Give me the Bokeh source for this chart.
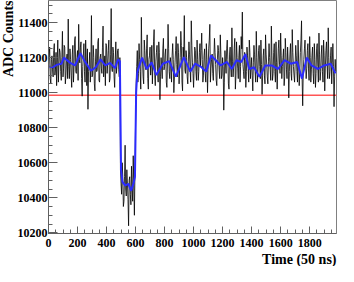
from bokeh.plotting import figure
from bokeh.models import Span, Title, SingleIntervalTicker, Range1d
from bokeh.embed import file_html
from bokeh.resources import INLINE

# ---- data ----
SAMPLE_STEP = 4  # time samples (50 ns units) between plotted raw points
adc_raw = [
    # 0 .. 492
    11120, 11210, 11260, 11080, 11050, 11190, 11210, 11130, 11090, 11240,
    11280, 11100, 11130, 11230, 11040, 11170, 11300, 11060, 11160, 11250,
    11230, 11120, 11070, 11200, 11350, 11090, 11140, 11270, 11260, 11050,
    11100, 11190, 11220, 11080, 11420, 11150, 11080, 11250, 11190, 11100,
    11030, 11220, 11270, 11060, 11150, 11300, 11320, 11120, 11110, 11200,
    11240, 11070, 11390, 11190, 11170, 11260, 11290, 11080, 10980, 11150,
    11210, 11280, 11120, 11060, 11300, 11180, 11040, 11250, 10905, 11120,
    11160, 11230, 11060, 11140, 11440, 11090, 11100, 11270, 11200, 11050,
    11010, 11180, 11250, 11120, 11130, 11290, 11310, 11070, 11060, 11200,
    11220, 11140, 11110, 11260, 11380, 11090, 11150, 11210, 11040, 11280,
    11270, 11110, 11170, 11240, 11300, 11060, 11080, 11220, 11480, 11140,
    11120, 11260, 11230, 11090, 11030, 11180, 11290, 11110, 11150, 11240,
    11250, 11130, 11090, 11200,
    # 496 .. 600 (pulse)
    10560, 10480, 10420, 10600, 10520, 10350, 10380, 10520, 10700, 10450,
    10410, 10560, 10480, 10390, 10240, 10500, 10520, 10420, 10360, 10580,
    10460, 10380, 10640, 10470, 10300, 10560, 10820,
    # 604 .. 1980
    11050, 11150, 11240, 11060, 11110, 11280, 11190, 11120, 11020, 11430,
    11200, 11180, 11090, 11050, 11300, 11240, 11150, 11130, 11250, 11330,
    11080, 11020, 11190, 11210, 11260, 11100, 11160, 11270, 11050, 11160,
    11290, 11360, 11100, 11040, 11180, 11230, 11270, 11120, 11060, 11290,
    11230, 10960, 11090, 11200, 11140, 11080, 11250, 11310, 11130, 11150,
    11220, 11250, 11060, 11030, 11170, 11390, 11250, 11120, 11080, 11200,
    11150, 11060, 11210, 11280, 11190, 11000, 11090, 11170, 11240, 11320,
    11160, 11090, 11280, 11230, 11050, 11140, 11200, 11350, 11270, 11060,
    11010, 11260, 11200, 11440, 11130, 11110, 11240, 11200, 11090, 11050,
    11180, 11290, 11220, 11130, 11060, 11410, 11270, 11170, 11110, 11030,
    11150, 11260, 11240, 11120, 11070, 11300, 11190, 11070, 11120, 11230,
    11280, 11150, 11240, 11340, 11190, 11060, 11100, 11210, 11250, 11110,
    11060, 11280, 11190, 11000, 11130, 11250, 11300, 11390, 11060, 11140,
    11190, 11220, 11110, 11070, 11200, 11310, 11230, 11160, 11070, 11040,
    11190, 11270, 11240, 11130, 11080, 11330, 11220, 11080, 11100, 11200,
    11150, 10900, 11060, 11240, 11170, 11110, 11250, 11300, 11190, 11050,
    11020, 11220, 11260, 11150, 11090, 11370, 11180, 11090, 11140, 11250,
    11310, 11020, 11100, 11290, 11200, 11140, 11080, 11210, 11270, 11060,
    11150, 11320, 11250, 11460, 11160, 11120, 11080, 11230, 11190, 11030,
    11120, 11260, 11210, 11140, 11060, 11300, 11230, 11080, 11140, 11200,
    11100, 11010, 11170, 11270, 11220, 11120, 11060, 11350, 11200, 11060,
    11130, 11240, 11270, 11150, 11080, 11300, 11160, 10990, 11100, 11210,
    11250, 11100, 11050, 11330, 11220, 11160, 11090, 11050, 11180, 11280,
    11200, 11130, 11070, 11380, 11210, 11070, 11110, 11230, 11280, 11120,
    11060, 11290, 11170, 11020, 11140, 11250, 11300, 11160, 11110, 11340,
    11210, 11080, 11150, 11200, 11250, 11040, 11090, 11310, 11230, 11130,
    11080, 11260, 11180, 10970, 11120, 11220, 11280, 11110, 11070, 11360,
    11230, 11150, 11100, 11060, 11160, 11270, 11210, 11120, 11060, 11300,
    11180, 11040, 11120, 11230, 11300, 11410, 11080, 10925, 11130, 11190,
    11250, 11300, 11160, 11080, 11140, 11240, 11280, 11140, 11070, 11320,
    11200, 11060, 11130, 11210, 11260, 11110, 11050, 11280, 11190, 11030,
    11110, 11250, 11280, 11150, 11060, 11340, 11220, 11070, 11120, 11220,
    11270, 11120, 11060, 11300, 11210, 11010, 11140, 11240, 11290, 11160,
    11080, 11370, 11200, 11080, 11120, 11210, 11260, 11050, 11170, 11280,
    11150, 10920, 11090, 11190, 11120,
]
time_raw = [SAMPLE_STEP * i for i in range(len(adc_raw))]

# smoothed (moving average) trace
time_avg = [0, 30, 60, 90, 106, 150, 183, 220, 249, 293, 326, 359, 392, 425,
            458, 480, 492, 500, 510, 530, 550, 570, 585, 596, 604, 612, 645,
            678, 711, 744, 788, 832, 878, 933, 977, 1010, 1054, 1087, 1120,
            1153, 1186, 1230, 1263, 1296, 1329, 1357, 1384, 1417, 1454, 1494,
            1538, 1582, 1626, 1670, 1714, 1747, 1780, 1813, 1857, 1900, 1945,
            1978]
adc_avg = [11150, 11145, 11160, 11165, 11200, 11170, 11155, 11225, 11180,
           11125, 11145, 11190, 11155, 11170, 11140, 11190, 11180, 10560,
           10490, 10470, 10480, 10440, 10480, 10520, 11000, 11118, 11200,
           11135, 11173, 11100, 11165, 11180, 11091, 11203, 11120, 11165,
           11145, 11120, 11212, 11185, 11155, 11175, 11135, 11185, 11175,
           11220, 11135, 11145, 11090, 11155, 11155, 11135, 11185, 11165,
           11175, 11080, 11200, 11155, 11135, 11155, 11165, 11110]

threshold = 10985

x_start, x_end = 0, 1985
y_start, y_end = 10196, 11526

x_title = "Time (50 ns)"
y_title = "ADC Counts"

FONT = "Liberation Serif"

p = figure(width=338, height=266, output_backend="svg", toolbar_location=None,
           x_range=Range1d(x_start, x_end), y_range=Range1d(y_start, y_end),
           min_border_left=0, min_border_right=2, min_border_top=0,
           min_border_bottom=0)
p.background_fill_color = "white"
p.border_fill_color = "white"
p.outline_line_color = "#808080"
p.outline_line_width = 1
p.grid.visible = False

p.add_layout(Span(location=threshold, dimension="width", line_color="#ff5555",
                  line_width=1.5, level="underlay"))

p.line(time_raw, adc_raw, line_color="black", line_width=1, line_alpha=0.8)
p.line(time_avg, adc_avg, line_color="#2b2bff", line_width=2)

for ax, interval, mj, mn in ((p.xaxis[0], 200, 7, 4), (p.yaxis[0], 200, 9, 4)):
    ax.ticker = SingleIntervalTicker(interval=interval, num_minor_ticks=4)
    ax.major_tick_in = mj
    ax.major_tick_out = 0
    ax.minor_tick_in = mn
    ax.minor_tick_out = 0
    ax.axis_line_color = "#606060"
    ax.major_tick_line_color = "#606060"
    ax.minor_tick_line_color = "#606060"
    ax.major_label_text_font = FONT
    ax.major_label_text_font_style = "bold"
    ax.major_label_text_font_size = "12px"
    ax.major_label_text_color = "black"
    ax.major_label_standoff = 1

p.xaxis[0].major_label_standoff = 5

# axis titles (ROOT style: aligned to the axis ends)
p.add_layout(Title(text=x_title, align="right", text_font=FONT,
                   text_font_style="bold", text_font_size="14px",
                   text_color="black", standoff=0), "below")
p.add_layout(Title(text=y_title, align="right", text_font=FONT,
                   text_font_style="bold", text_font_size="14px",
                   text_color="black", standoff=-3), "left")

open("out.html", "w").write(file_html(p, INLINE))
